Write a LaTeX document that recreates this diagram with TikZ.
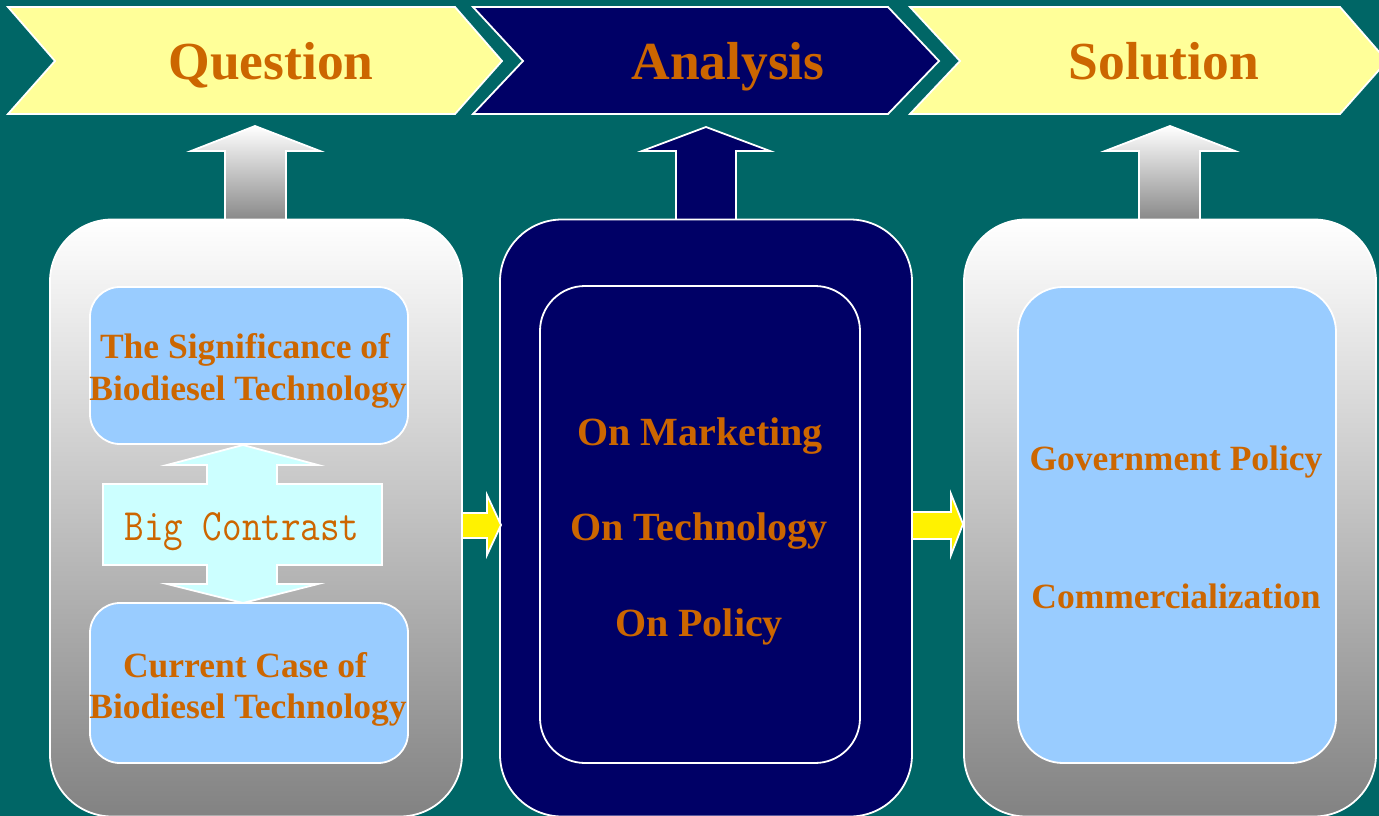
\documentclass[tikz,border=0pt]{standalone}
\usepackage{fontspec}
\setmainfont{Liberation Serif}
\usetikzlibrary{positioning}
\definecolor{teal}{HTML}{006666}
\definecolor{navy}{HTML}{000066}
\definecolor{paleyellow}{HTML}{FFFF99}
\definecolor{rust}{HTML}{CC6600}
\definecolor{skyblue}{HTML}{99CCFF}
\definecolor{palecyan}{HTML}{CCFFFF}

\begin{document}
\begin{tikzpicture}[x=1pt,y=-1pt,
  outline/.style={draw=white,line width=1.8pt,line join=miter},
  title/.style={font=\fontsize{53.5}{60}\selectfont\bfseries,text=rust,anchor=base},
  label/.style={font=\fontsize{35.5}{42}\selectfont\bfseries,text=rust,anchor=base,inner sep=0pt},
  biglabel/.style={font=\fontsize{40}{46}\selectfont\bfseries,text=rust,anchor=base,inner sep=0pt},
  greybox/.style={outline,rounded corners=62pt,top color=white,bottom color=gray!98,
    minimum width=412pt,minimum height=597pt,inner sep=0pt},
  navybox/.style={outline,rounded corners=62pt,fill=navy,
    minimum width=412pt,minimum height=597pt,inner sep=0pt},
  innerbox/.style={outline,rounded corners=#1,fill=skyblue,inner sep=0pt},
  greyarrow/.style={outline,top color=white,bottom color=gray!95},
  sidearrow/.style={outline,fill=yellow}]
\useasboundingbox (0,0) rectangle (1379,816);
% Background
\fill[teal] (0,0) rectangle (1379,816);
% Chevrons
\draw[outline,fill=paleyellow] (8,7) -- (455,7) -- (502,61) -- (455,114) -- (8,114) -- (55,61) -- cycle;
\draw[outline,fill=navy] (473,7) -- (888,7) -- (939,61) -- (888,114) -- (473,114) -- (523,61) -- cycle;
\draw[outline,fill=paleyellow] (910,7) -- (1340,7) -- (1387,61) -- (1340,114) -- (910,114) -- (960,61) -- cycle;
\node[title] (question) at (271,80) {Question};
\node[title] (analysis) at (728,80) {Analysis};
\node[title] (solution) at (1164,80) {Solution};
% Up arrows
\draw[greyarrow] (225,222) -- (225,151) -- (191,151) -- (255,126) -- (320,151) -- (286,151) -- (286,222);
\draw[outline,fill=navy] (676,222) -- (676,151) -- (642,151) -- (706,127) -- (770,151) -- (736,151) -- (736,222);
\draw[greyarrow] (1139,222) -- (1139,151) -- (1105,151) -- (1170,126) -- (1235,151) -- (1200,151) -- (1200,222);
% Big boxes
\node[greybox] (qbox) at (256,518) {};
\node[navybox] (abox) at (706,518) {};
\node[greybox] (sbox) at (1170,518) {};
% Inner boxes
\node[innerbox=30pt,minimum width=318pt,minimum height=157pt] (signif) at (249,365.5) {};
\node[innerbox=30pt,minimum width=318pt,minimum height=160pt] (current) at (249,683) {};
\node[outline,rounded corners=45pt,fill=navy,minimum width=320pt,minimum height=477pt] (aspects) at (700,524.5) {};
\node[innerbox=45pt,minimum width=318pt,minimum height=476pt] (measures) at (1177,525) {};
% Double arrow
\draw[outline,fill=palecyan] (243,445) -- (318,465) -- (277,465) -- (277,484) -- (382,484) -- (382,565)
  -- (277,565) -- (277,584) -- (318,584) -- (243,603) -- (167,584) -- (207,584) -- (207,565)
  -- (103,565) -- (103,484) -- (207,484) -- (207,465) -- (167,465) -- cycle;
% Side arrows
\draw[sidearrow] (462,513) -- (487,513) -- (487,495) -- (501,525) -- (487,555) -- (487,538) -- (462,538) -- cycle;
\draw[sidearrow] (912,512) -- (951,512) -- (951,494) -- (963,524) -- (951,555) -- (951,539) -- (912,539) -- cycle;
% Texts
\node[label] (sig1) at (245,358) {The Significance of};
\node[label] (sig2) at (248,400) {Biodiesel Technology};
\node[label] (cur1) at (245,677) {Current Case of};
\node[label] (cur2) at (248,718) {Biodiesel Technology};
\node[anchor=base,inner sep=0pt,text=rust] (contrast) at (242,540)
  {\scalebox{1}[1.18]{\ttfamily\fontsize{38}{44}\selectfont Big Contrast}};
\node[biglabel] (market) at (700,445) {On Marketing};
\node[biglabel] (tech) at (699,540) {On Technology};
\node[biglabel] (policy) at (699,636) {On Policy};
\node[label] (gov) at (1176,470) {Government Policy};
\node[label] (comm) at (1176,608) {Commercialization};
\end{tikzpicture}
\end{document}
